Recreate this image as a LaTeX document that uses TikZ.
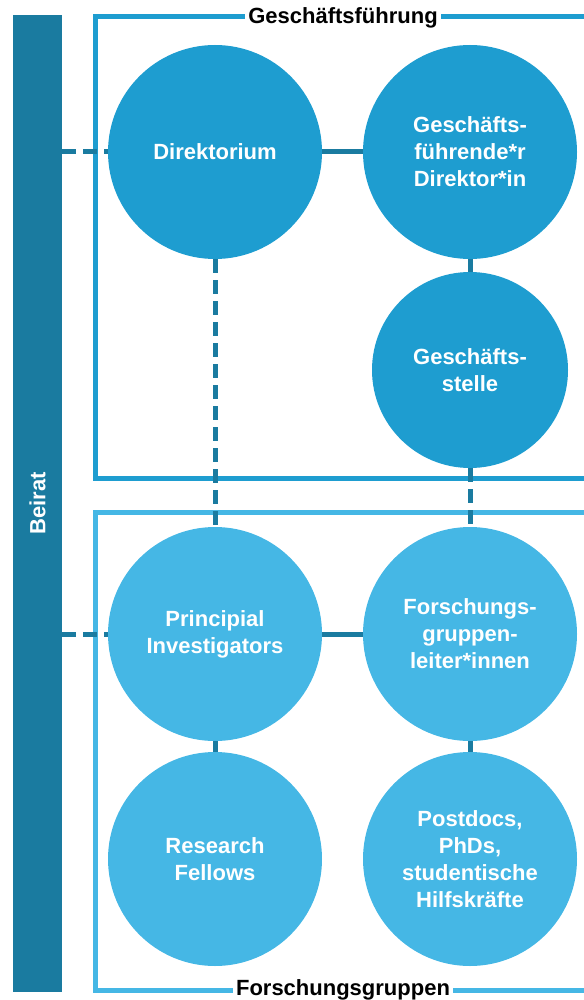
\documentclass[tikz,border=0pt]{standalone}
\usepackage{fontspec}
\setmainfont{Liberation Sans}
\usetikzlibrary{positioning}

\definecolor{topblue}{HTML}{1E9DD0}
\definecolor{lowblue}{HTML}{45B7E5}
\definecolor{darkblue}{HTML}{1A7BA0}

\begin{document}
\begin{tikzpicture}[x=1pt, y=-1pt,
    unit/.style={circle, inner sep=0pt, minimum size=214pt, align=center, text=white, font=\fontsize{22}{27}\selectfont\bfseries},
    link/.style={line width=5pt, draw=darkblue},
    dashlink/.style={link, dash pattern=on 14pt off 7pt},
    framelabel/.style={fill=white, inner sep=3pt, font=\fontsize{22}{27}\selectfont\bfseries}]
    \useasboundingbox (0,0) rectangle (583,1000);

    % Beirat bar on the left
    \node[fill=darkblue, inner sep=0pt, minimum width=49pt, minimum height=977pt, text=white, font=\fontsize{22}{27}\selectfont\bfseries] (beirat) at (37.5,503.5) {\rotatebox{90}{Beirat}};

    % Frames
    \draw[topblue, line width=5pt] (590,17) -- (95,17) -- (95,478) -- (590,478);
    \draw[lowblue, line width=5pt] (590,512) -- (95,512) -- (95,990) -- (590,990);
    \node[framelabel] (gflabel) at (343,18) {Geschäftsführung};
    \node[framelabel] (fglabel) at (343,990) {Forschungsgruppen};

    % Geschaeftsfuehrung
    \node[unit, fill=topblue] (direktorium) at (215,152) {Direktorium};
    \node[unit, fill=topblue] (gfdir) at (470,152) {Geschäfts-\\führende*r\\Direktor*in};
    \node[unit, fill=topblue, minimum size=196pt] (gstelle) at (470,370) {Geschäfts-\\stelle};

    % Forschungsgruppen
    \node[unit, fill=lowblue] (pi) at (215,634) {Principial\\Investigators};
    \node[unit, fill=lowblue] (fgl) at (470,634) {Forschungs-\\gruppen-\\leiter*innen};
    \node[unit, fill=lowblue] (fellows) at (215,859) {Research\\Fellows};
    \node[unit, fill=lowblue] (postdocs) at (470,859) {Postdocs,\\PhDs,\\studentische\\Hilfskräfte};

    % Connectors
    \draw[link] (direktorium) -- (gfdir);
    \draw[link] (gfdir) -- (gstelle);
    \draw[link] (pi) -- (fgl);
    \draw[link] (pi) -- (fellows);
    \draw[link] (fgl) -- (postdocs);
    \draw[dashlink] (direktorium) -- (pi);
    \draw[dashlink] (gstelle) -- (fgl);
    \draw[dashlink] (beirat.east |- direktorium) -- (direktorium);
    \draw[dashlink] (beirat.east |- pi) -- (pi);
\end{tikzpicture}
\end{document}
